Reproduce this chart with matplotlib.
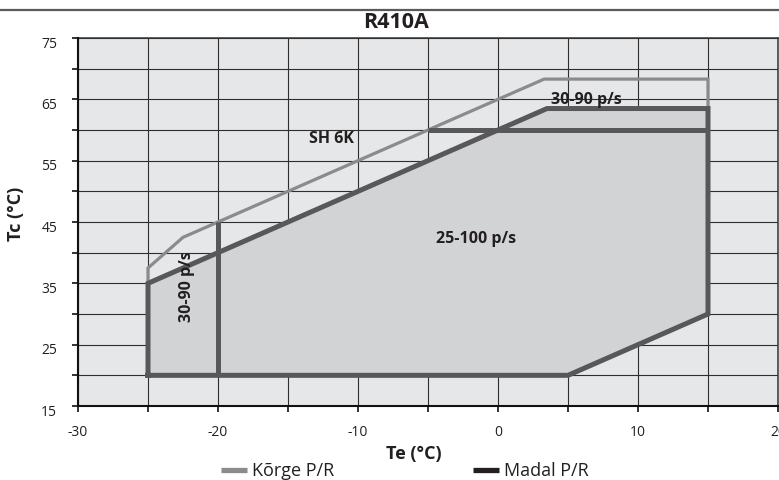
import matplotlib
matplotlib.use("Agg")
import matplotlib.pyplot as plt
import matplotlib.transforms as mtransforms
from matplotlib.lines import Line2D

plt.rcParams['font.family'] = ['Open Sans', 'DejaVu Sans']

# ---- data ----
title = "R410A"
x_label = "Te (°C)"
y_label = "Tc (°C)"
series_names = ["Kõrge P/R", "Madal P/R"]

# High pressure (Kõrge P/R) envelope outline
te_high = [-25, -25, -22.5, -20, 3.3, 15, 15]
tc_high = [35, 37.5, 42.5, 45, 68.3, 68.3, 63.5]

# Low pressure (Madal P/R) envelope (closed polygon)
te_low = [-25, -25, 3.5, 15, 15, 5, -25]
tc_low = [20, 35, 63.5, 63.5, 30, 20, 20]

# internal dividing lines
te_div_v = [-20, -20]
tc_div_v = [20, 45]
te_div_h = [-5, 15]
tc_div_h = [60, 60]

# region labels
label_texts = ["SH 6K", "30-90 p/s", "25-100 p/s", "30-90 p/s"]
label_te = [-11.9, 6.3, -1.6, -22.2]
label_tc = [58.5, 64.9, 42.2, 34.5]
label_rot = [0, 0, 0, 90]

x_ticks = list(range(-30, 21, 5))
x_ticklabels = [str(v) if v % 10 == 0 else "" for v in x_ticks]
y_ticks = list(range(15, 76, 5))
y_ticklabels = [str(v) if v % 10 == 5 else "" for v in y_ticks]

# ---- styling ----
bg = '#e6e7e8'
fill_col = '#d2d3d5'
high_col = '#8b8b8d'
low_col = '#58585a'
W, H = 779, 480

fig = plt.figure(figsize=(W / 100, H / 100), dpi=100)
fig.patch.set_facecolor('white')
ax = fig.add_axes([78 / W, 1 - 406 / H, 700 / W, 368 / H])
ax.set_facecolor(bg)
ax.set_xlim(-30, 20)
ax.set_ylim(15, 75)

ax.fill(te_low, tc_low, color=fill_col, zorder=1, lw=0)
ax.set_xticks(x_ticks)
ax.set_xticklabels(x_ticklabels)
ax.set_yticks(y_ticks)
ax.set_yticklabels(y_ticklabels)
ax.grid(True, color='#2e2e2e', lw=0.8, zorder=1.5)
ax.set_axisbelow(True)

ax.plot(te_high, tc_high, color=high_col, lw=2.3, zorder=3,
        solid_joinstyle='miter', solid_capstyle='butt')
ax.plot(te_low, tc_low, color=low_col, lw=3.6, zorder=4,
        solid_joinstyle='miter', solid_capstyle='projecting')
ax.plot(te_div_v, tc_div_v, color=low_col, lw=3.6, zorder=4,
        solid_capstyle='butt')
ax.plot(te_div_h, tc_div_h, color=low_col, lw=3.6, zorder=4,
        solid_capstyle='butt')

for t, xv, yv, r in zip(label_texts, label_te, label_tc, label_rot):
    ax.text(xv, yv, t, ha='center', va='center', rotation=r,
            fontsize=11.5, fontweight='bold', color='#231f20', zorder=6)

for s in ['top', 'right']:
    ax.spines[s].set_color('#333333')
    ax.spines[s].set_linewidth(1.1)
for s in ['left', 'bottom']:
    ax.spines[s].set_color('#111111')
    ax.spines[s].set_linewidth(1.5)
    ax.spines[s].set_zorder(5)

ax.tick_params(axis='x', direction='out', length=4.5, width=1.2, pad=9,
               labelsize=10, colors='#111111', labelcolor='#231f20')
ax.tick_params(axis='y', direction='out', length=4, width=1.2, pad=11,
               labelsize=10, colors='#111111', labelcolor='#231f20')
off = mtransforms.ScaledTranslation(0, -4 / 100, fig.dpi_scale_trans)
for lbl in ax.get_yticklabels():
    lbl.set_transform(lbl.get_transform() + off)

# title and frame line
fig.add_artist(Line2D([0, 1], [1 - 9.5 / H, 1 - 9.5 / H], color='#5a5a5a',
                      lw=1.6, transform=fig.transFigure))
fig.text(396 / W, 1 - 23 / H, title, ha='center', va='center',
         fontsize=15.5, fontweight='bold', color='#231f20')

fig.text(414 / W, 1 - 454 / H, x_label, ha='center', va='center',
         fontsize=13, fontweight='bold', color='#231f20')
fig.text(16 / W, 1 - 214 / H, y_label, ha='center', va='center',
         rotation=90, fontsize=13, fontweight='bold', color='#231f20')

# legend
leg_colors = [high_col, '#231f20']
leg_x = [221, 473]
for name, c, lx in zip(series_names, leg_colors, leg_x):
    h = Line2D([], [], color=c, lw=3.8, solid_capstyle='butt')
    fig.legend([h], [name], loc='center left',
               bbox_to_anchor=(lx / W, 1 - 471 / H), frameon=False,
               fontsize=13, handlelength=1.45, handletextpad=0.25,
               borderpad=0, borderaxespad=0, labelcolor='#231f20')

fig.savefig('out.png', dpi=100)
